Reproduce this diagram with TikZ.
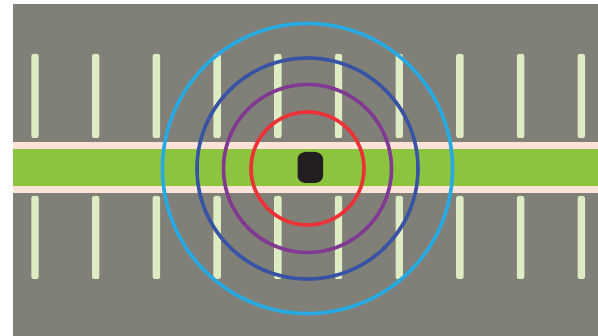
\documentclass[tikz,border=0pt]{standalone}
\definecolor{asphalt}{RGB}{128,128,120}
\definecolor{paint}{RGB}{222,236,196}
\definecolor{curb}{RGB}{253,228,214}
\definecolor{grass}{RGB}{141,196,63}
\definecolor{ringA}{RGB}{39,170,225}
\definecolor{ringB}{RGB}{57,83,164}
\definecolor{ringC}{RGB}{128,58,145}
\definecolor{ringD}{RGB}{237,50,55}
\definecolor{puck}{RGB}{35,31,32}
\tikzset{
  stall/.style={fill=paint,rounded corners=2pt},
  ring/.style={line width=3.6pt}
}
\begin{document}
\begin{tikzpicture}[x=1pt,y=-1pt]
\useasboundingbox (0,0) rectangle (598,336);
% lot
\fill[asphalt] (13,4) rectangle (598,336);
% parking lines
\foreach \i in {0,...,9}{
  \path[stall] ({31.3+60.7*\i},54) rectangle ({38.7+60.7*\i},138);
  \path[stall] ({31.3+60.7*\i},196) rectangle ({38.7+60.7*\i},279);
}
% median
\fill[curb] (13,142) rectangle (598,193);
\fill[grass] (13,149) rectangle (598,186);
% sensor
\coordinate (c) at (307.5,168.5);
\fill[puck] (297.5,159) arc[start angle=180,end angle=270,x radius=8.5,y radius=7]
  -- (314.5,152) arc[start angle=270,end angle=360,x radius=8.5,y radius=7]
  -- (323,176) arc[start angle=0,end angle=90,x radius=8.5,y radius=7]
  -- (306,183) arc[start angle=90,end angle=180,x radius=8.5,y radius=7] -- cycle;
% ranges
\draw[ring,ringA] (c) circle (145);
\draw[ring,ringB] (c) circle (110.5);
\draw[ring,ringC] (c) circle (84);
\draw[ring,ringD] (c) circle (56.5);
\end{tikzpicture}
\end{document}
